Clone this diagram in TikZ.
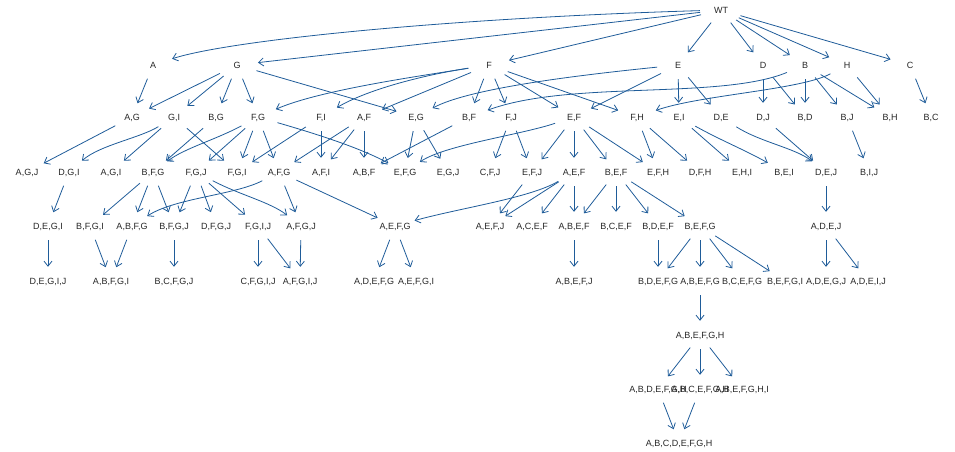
\documentclass[tikz,border=0pt]{standalone}
\usepackage{fontspec}
\setmainfont{Liberation Sans}
\usetikzlibrary{shapes.geometric,arrows.meta}
\definecolor{edgeblue}{HTML}{1F5C99}
\definecolor{txtcol}{HTML}{262626}
\newcommand{\zw}[1]{\makebox[0pt]{#1}}
\begin{document}
\begin{tikzpicture}[x=1pt,y=-1pt,
  st/.style={ellipse, minimum width=42pt, minimum height=28pt, inner sep=0pt,
    text height=6.5pt, text depth=0pt, text=txtcol, font=\fontsize{9}{10}\selectfont},
  ar/.style={draw=edgeblue, line width=0.8pt, -{Straight Barb[length=5pt,width=8pt]}}]
\useasboundingbox (0,0) rectangle (955,452);
% row 0
\node[st] (WT) at (721,10) {\zw{WT}};
% row 1
\foreach \n/\x/\t in {A/153/A, G/237/G, F/489/F, E/678/E, D/763/D, B/805/B, H/847/H, C/910/C}
  \node[st] (\n) at (\x,65) {\zw{\t}};
% row 2
\foreach \n/\x/\t in {AG/132/{A,G}, GI/174/{G,I}, BG/216/{B,G}, FG/258/{F,G}, FI/321/{F,I}, AF/364/{A,F},
  EG/416/{E,G}, BF/469/{B,F}, FJ/511/{F,J}, EF/574/{E,F}, FH/637/{F,H}, EI/679/{E,I}, DE/721/{D,E},
  DJ/763/{D,J}, BD/805/{B,D}, BJ/847/{B,J}, BH/890/{B,H}, BC/931/{B,C}}
  \node[st] (\n) at (\x,117) {\zw{\t}};
% row 3
\foreach \n/\x/\t in {AGJ/27/{A,G,J}, DGI/69/{D,G,I}, AGI/111/{A,G,I}, BFG/153/{B,F,G}, FGJ/196/{F,G,J},
  FGI/237/{F,G,I}, AFG/279/{A,F,G}, AFI/321/{A,F,I}, ABF/364/{A,B,F}, EFG/405/{E,F,G}, EGJ/448/{E,G,J},
  CFJ/490/{C,F,J}, EFJ/532/{E,F,J}, AEF/574/{A,E,F}, BEF/616/{B,E,F}, EFH/658/{E,F,H}, DFH/700/{D,F,H},
  EHI/742/{E,H,I}, BEI/784/{B,E,I}, DEJ/826/{D,E,J}, BIJ/869/{B,I,J}}
  \node[st] (\n) at (\x,172) {\zw{\t}};
% row 4
\foreach \n/\x/\t in {DEGI/48/{D,E,G,I}, BFGI/90/{B,F,G,I}, ABFG/132/{A,B,F,G}, BFGJ/174/{B,F,G,J},
  DFGJ/216/{D,F,G,J}, FGIJ/258/{F,G,I,J}, AFGJ/301/{A,F,G,J}, AEFG/395/{A,E,F,G}, AEFJ/490/{A,E,F,J},
  ACEF/532/{A,C,E,F}, ABEF/574/{A,B,E,F}, BCEF/616/{B,C,E,F}, BDEF/658/{B,D,E,F}, BEFG/700/{B,E,F,G},
  ADEJ/826/{A,D,E,J}}
  \node[st] (\n) at (\x,226) {\zw{\t}};
% row 5
\foreach \n/\x/\t in {DEGIJ/48/{D,E,G,I,J}, ABFGI/111/{A,B,F,G,I}, BCFGJ/174/{B,C,F,G,J},
  CFGIJ/258/{C,F,G,I,J}, AFGIJ/300/{A,F,G,I,J}, ADEFG/374/{A,D,E,F,G}, AEFGI/416/{A,E,F,G,I},
  ABEFJ/574/{A,B,E,F,J}, BDEFG/658/{B,D,E,F,G}, ABEFG/700/{A,B,E,F,G}, BCEFG/742/{B,C,E,F,G},
  BEFGI/785/{B,E,F,G,I}, ADEGJ/826/{A,D,E,G,J}, ADEIJ/868/{A,D,E,I,J}}
  \node[st] (\n) at (\x,281) {\zw{\t}};
% rows 6-8
\node[st] (ABEFGH) at (700,335) {\zw{A,B,E,F,G,H}};
\node[st] (ABDEFGH) at (658,389) {\zw{A,B,D,E,F,G,H}};
\node[st] (ABCEFGH) at (700,389) {\zw{A,B,C,E,F,G,H}};
\node[st] (ABEFGHI) at (742,389) {\zw{A,B,E,F,G,H,I}};
\node[st] (ABCDEFGH) at (679,443) {\zw{A,B,C,D,E,F,G,H}};
% straight edges
\foreach \a/\b in {WT/G, WT/F, WT/E, WT/D, WT/B, WT/H, WT/C,
  A/AG, G/AG, G/GI, G/BG, G/FG, G/EG,
  F/AF, F/BF, F/FJ, F/EF, F/FH,
  E/EF, E/EI, E/DE,
  D/DJ, D/BD,
  B/BD, B/BJ, B/BH,
  H/BH, C/BC,
  AG/AGJ, GI/AGI, GI/FGI, BG/BFG,
  FG/FGJ, FG/FGI, FG/AFG,
  FI/FGI, FI/AFI,
  AF/AFG, AF/AFI, AF/ABF,
  EG/EFG, EG/EGJ, BF/ABF,
  FJ/CFJ, FJ/EFJ,
  EF/EFJ, EF/AEF, EF/BEF, EF/EFH,
  FH/EFH, FH/DFH,
  EI/EHI, DJ/DEJ, BJ/BIJ,
  DGI/DEGI, BFG/BFGI, BFG/ABFG, BFG/BFGJ,
  FGJ/BFGJ, FGJ/DFGJ, FGJ/FGIJ,
  AFG/AFGJ, AFG/AEFG,
  EFJ/AEFJ, AEF/AEFJ, AEF/ACEF, AEF/ABEF,
  BEF/ABEF, BEF/BCEF, BEF/BDEF, BEF/BEFG,
  DEJ/ADEJ,
  DEGI/DEGIJ, BFGI/ABFGI, ABFG/ABFGI, BFGJ/BCFGJ,
  FGIJ/CFGIJ, FGIJ/AFGIJ, AFGJ/AFGIJ,
  AEFG/ADEFG, AEFG/AEFGI, ABEF/ABEFJ, BDEF/BDEFG,
  BEFG/BDEFG, BEFG/ABEFG, BEFG/BCEFG, BEFG/BEFGI,
  ADEJ/ADEGJ, ADEJ/ADEIJ,
  ABEFG/ABEFGH,
  ABEFGH/ABDEFGH, ABEFGH/ABCEFGH, ABEFGH/ABEFGHI,
  ABDEFGH/ABCDEFGH, ABCEFGH/ABCDEFGH}
  \draw[ar] (\a) -- (\b);
% curved edges
\draw[ar] (WT) .. controls (450,18) and (230,40) .. (A);
\draw[ar] (F) .. controls (420,76) and (320,90) .. (FG);
\draw[ar] (F) .. controls (430,74) and (370,88) .. (FI);
\draw[ar] (E) .. controls (580,75) and (470,88) .. (EG);
\draw[ar] (B) .. controls (720,100) and (570,80) .. (BF);
\draw[ar] (H) .. controls (800,90) and (700,95) .. (FH);
\draw[ar] (GI) .. controls (140,138) and (100,145) .. (DGI);
\draw[ar] (FG) .. controls (215,140) and (185,148) .. (BFG);
\draw[ar] (FG) .. controls (320,135) and (360,148) .. (EFG);
\draw[ar] (EF) .. controls (520,135) and (445,145) .. (EFG);
\draw[ar] (EI) .. controls (720,140) and (745,150) .. (BEI);
\draw[ar] (DE) .. controls (760,142) and (795,148) .. (DEJ);
\draw[ar] (FGJ) .. controls (240,195) and (270,202) .. (AFGJ);
\draw[ar] (AFG) .. controls (235,195) and (175,198) .. (ABFG);
\draw[ar] (AEF) .. controls (530,198) and (460,208) .. (AEFG);
\end{tikzpicture}
\end{document}
